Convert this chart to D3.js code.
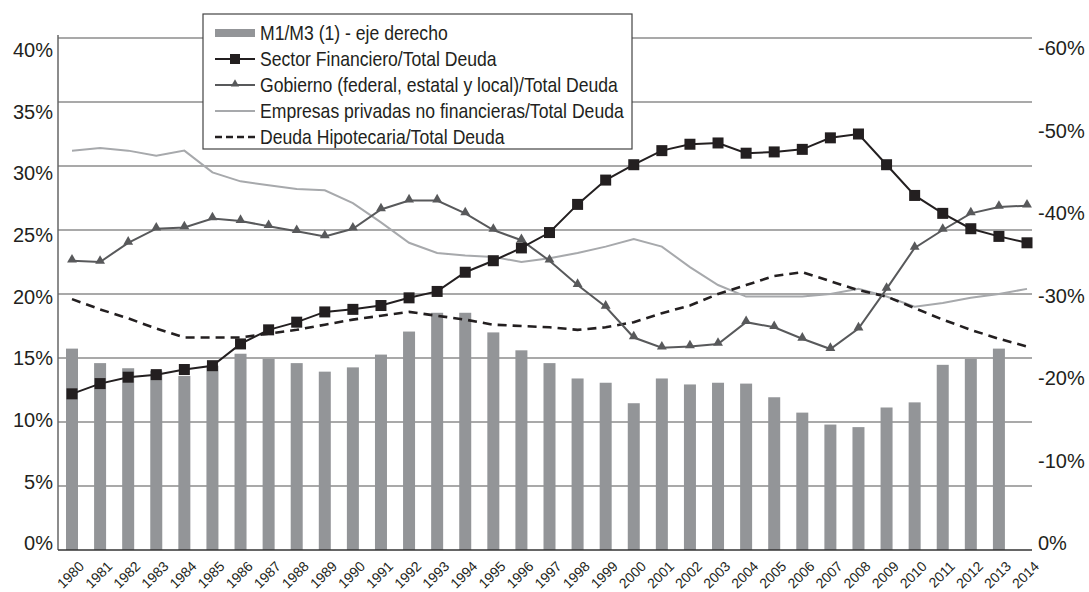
<!DOCTYPE html>
<html>
<head>
<meta charset="utf-8">
<script src="https://cdn.jsdelivr.net/npm/d3@7"></script>
<style>
    body { margin: 0; background: #fff; }
    text { font-family: 'Liberation Sans', Arial, sans-serif; fill: #231f20; }
    .tick-label { font-size: 20px; }
</style>
</head>
<body>
<div id="chart"></div>
<script>
const years = [1980, 1981, 1982, 1983, 1984, 1985, 1986, 1987, 1988, 1989,
    1990, 1991, 1992, 1993, 1994, 1995, 1996, 1997, 1998, 1999,
    2000, 2001, 2002, 2003, 2004, 2005, 2006, 2007, 2008, 2009,
    2010, 2011, 2012, 2013, 2014];

// M1/M3 (eje derecho), 1980-2013
const m1m3 = [23.6, 21.9, 21.3, 21.0, 20.4, 21.6, 23.0, 22.4, 21.9, 20.9,
    21.4, 22.9, 25.6, 27.8, 27.8, 25.5, 23.4, 21.9, 20.1, 19.6,
    17.2, 20.1, 19.4, 19.6, 19.5, 17.9, 16.1, 14.7, 14.4, 16.7,
    17.3, 21.7, 22.4, 23.6];

const sectorFin = [12.2, 13.0, 13.5, 13.7, 14.1, 14.4, 16.1, 17.2, 17.8, 18.6,
    18.8, 19.1, 19.7, 20.2, 21.7, 22.6, 23.6, 24.8, 27.0, 28.9,
    30.1, 31.2, 31.7, 31.8, 31.0, 31.1, 31.3, 32.2, 32.5, 30.1,
    27.7, 26.3, 25.1, 24.5, 24.0];

const gobierno = [22.6, 22.5, 24.0, 25.1, 25.2, 25.9, 25.7, 25.3, 24.9, 24.5,
    25.1, 26.6, 27.3, 27.3, 26.3, 25.0, 24.2, 22.6, 20.7, 19.0,
    16.6, 15.8, 15.9, 16.1, 17.8, 17.4, 16.5, 15.7, 17.3, 20.4,
    23.6, 25.0, 26.3, 26.8, 26.9];

const empresas = [31.2, 31.4, 31.2, 30.8, 31.2, 29.5, 28.8, 28.5, 28.2, 28.1,
    27.1, 25.6, 24.0, 23.2, 23.0, 22.9, 22.5, 22.8, 23.2, 23.7,
    24.3, 23.7, 22.1, 20.7, 19.8, 19.8, 19.8, 20.0, 20.4, 19.8,
    19.0, 19.3, 19.7, 20.0, 20.4];

const hipotecaria = [19.6, 18.8, 18.1, 17.3, 16.6, 16.6, 16.6, 16.9, 17.2, 17.6,
    18.0, 18.3, 18.6, 18.3, 18.0, 17.6, 17.5, 17.4, 17.2, 17.4,
    17.8, 18.5, 19.1, 20.0, 20.7, 21.4, 21.7, 21.0, 20.3, 19.8,
    18.9, 18.0, 17.2, 16.5, 15.9];

const leftTicks = [0, 5, 10, 15, 20, 25, 30, 35, 40];
const rightTicks = [0, 10, 20, 30, 40, 50, 60];

const legendLabels = [
    'M1/M3 (1) - eje derecho',
    'Sector Financiero/Total Deuda',
    'Gobierno (federal, estatal y local)/Total Deuda',
    'Empresas privadas no financieras/Total Deuda',
    'Deuda Hipotecaria/Total Deuda',
];

const width = 1089,
    height = 592;

const svg = d3.select('#chart').append('svg').attr('width', width).attr('height', height);

const plotLeft = 58,
    plotRight = 1032;
const narrow = 0.88; // no Arial Narrow here, squeeze Liberation Sans instead

const x = d3.scalePoint().domain(years).range([72, 1027]);
const yLeft = d3.scaleLinear().domain([0, 40]).range([550, 38]);
const yRight = d3.scaleLinear().domain([0, 60]).range([550, 38]);
// the printed tick labels sit a little inside the gridlines
const yLeftLabel = d3.scaleLinear().domain([0, 40]).range([543, 50]);
const yRightLabel = d3.scaleLinear().domain([0, 60]).range([543, 48]);

// gridlines
svg.append('g')
    .selectAll('line')
    .data(leftTicks.slice(1))
    .enter()
    .append('line')
    .attr('x1', plotLeft)
    .attr('x2', plotRight)
    .attr('y1', (d) => yLeft(d))
    .attr('y2', (d) => yLeft(d))
    .attr('stroke', '#555')
    .attr('stroke-width', 1.2);

// bars (right axis)
svg.append('g')
    .selectAll('rect')
    .data(m1m3)
    .enter()
    .append('rect')
    .attr('x', (d, i) => x(years[i]) - 6)
    .attr('width', 12)
    .attr('y', (d) => yRight(d))
    .attr('height', (d) => yRight(0) - yRight(d))
    .attr('fill', '#939598');

// axis lines
svg.append('line')
    .attr('x1', plotLeft).attr('x2', plotLeft)
    .attr('y1', 35).attr('y2', yLeft(0))
    .attr('stroke', '#666').attr('stroke-width', 1.5);
svg.append('line')
    .attr('x1', plotLeft).attr('x2', plotRight)
    .attr('y1', yLeft(0)).attr('y2', yLeft(0))
    .attr('stroke', '#333').attr('stroke-width', 1.5);

const line = d3
    .line()
    .x((d, i) => x(years[i]))
    .y((d) => yLeft(d));

svg.append('path').datum(empresas).attr('d', line)
    .attr('fill', 'none').attr('stroke', '#a7a9ac').attr('stroke-width', 2);

svg.append('path').datum(hipotecaria).attr('d', line)
    .attr('fill', 'none').attr('stroke', '#231f20').attr('stroke-width', 2.6)
    .attr('stroke-dasharray', '9,6');

svg.append('path').datum(gobierno).attr('d', line)
    .attr('fill', 'none').attr('stroke', '#58595b').attr('stroke-width', 2);

const tri = d3.symbol().type(d3.symbolTriangle).size(42);
svg.append('g')
    .selectAll('path')
    .data(gobierno)
    .enter()
    .append('path')
    .attr('d', tri)
    .attr('transform', (d, i) => `translate(${x(years[i])},${yLeft(d) - 1})`)
    .attr('fill', '#58595b');

svg.append('path').datum(sectorFin).attr('d', line)
    .attr('fill', 'none').attr('stroke', '#231f20').attr('stroke-width', 2);

svg.append('g')
    .selectAll('rect')
    .data(sectorFin)
    .enter()
    .append('rect')
    .attr('x', (d, i) => x(years[i]) - 5.5)
    .attr('y', (d) => yLeft(d) - 5.5)
    .attr('width', 11)
    .attr('height', 11)
    .attr('fill', '#231f20');

// left tick labels
svg.append('g')
    .selectAll('text')
    .data(leftTicks)
    .enter()
    .append('text')
    .attr('class', 'tick-label')
    .attr('x', 53)
    .attr('y', (d) => yLeftLabel(d))
    .attr('dy', '0.36em')
    .attr('text-anchor', 'end')
    .text((d) => d + '%');

// right tick labels
svg.append('g')
    .selectAll('text')
    .data(rightTicks)
    .enter()
    .append('text')
    .attr('class', 'tick-label')
    .attr('x', 1038)
    .attr('y', (d) => yRightLabel(d))
    .attr('dy', '0.36em')
    .text((d) => (d === 0 ? '0%' : '-' + d + '%'));

// year labels
svg.append('g')
    .selectAll('text')
    .data(years)
    .enter()
    .append('text')
    .attr('transform', (d) => `translate(${x(d) + 6},${560}) rotate(-45)`)
    .attr('text-anchor', 'end')
    .attr('dy', '0.72em')
    .style('font-size', '14px')
    .text((d) => d);

// legend
const legend = svg.append('g').attr('class', 'legend');
legend.append('rect')
    .attr('x', 203).attr('y', 14)
    .attr('width', 429).attr('height', 135)
    .attr('fill', 'white')
    .attr('stroke', '#444')
    .attr('stroke-width', 1.2);

const rowY = (i) => 33 + i * 26;
const sx0 = 215,
    sx1 = 255;

legend.append('rect')
    .attr('x', sx0).attr('y', rowY(0) - 4)
    .attr('width', sx1 - sx0).attr('height', 8)
    .attr('fill', '#939598');

legend.append('line')
    .attr('x1', sx0).attr('x2', sx1).attr('y1', rowY(1)).attr('y2', rowY(1))
    .attr('stroke', '#231f20').attr('stroke-width', 2);
legend.append('rect')
    .attr('x', (sx0 + sx1) / 2 - 5).attr('y', rowY(1) - 5)
    .attr('width', 10).attr('height', 10)
    .attr('fill', '#231f20');

legend.append('line')
    .attr('x1', sx0).attr('x2', sx1).attr('y1', rowY(2)).attr('y2', rowY(2))
    .attr('stroke', '#58595b').attr('stroke-width', 2);
legend.append('path')
    .attr('d', d3.symbol().type(d3.symbolTriangle).size(30))
    .attr('transform', `translate(${(sx0 + sx1) / 2},${rowY(2) - 1})`)
    .attr('fill', '#58595b');

legend.append('line')
    .attr('x1', sx0).attr('x2', sx1).attr('y1', rowY(3)).attr('y2', rowY(3))
    .attr('stroke', '#a7a9ac').attr('stroke-width', 2);

legend.append('line')
    .attr('x1', sx0).attr('x2', sx1).attr('y1', rowY(4)).attr('y2', rowY(4))
    .attr('stroke', '#231f20').attr('stroke-width', 2.5)
    .attr('stroke-dasharray', '7,4');

legend.selectAll('text')
    .data(legendLabels)
    .enter()
    .append('text')
    .attr('transform', (d, i) => `translate(260,${rowY(i)}) scale(${narrow},1)`)
    .attr('dy', '0.36em')
    .style('font-size', '20px')
    .text((d) => d);
</script>
</body>
</html>
